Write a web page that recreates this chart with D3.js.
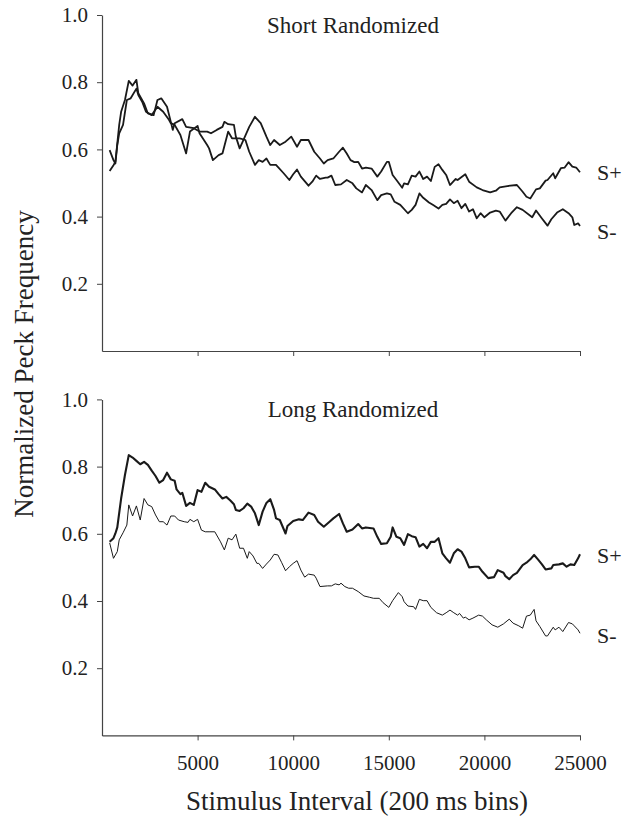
<!DOCTYPE html>
<html>
<head>
<meta charset="utf-8">
<script src="https://cdn.jsdelivr.net/npm/d3@7"></script>
<style>
body { margin: 0; background: #fff; }
</style>
</head>
<body>
<div id="chart"></div>
<script>
// values: [interval, normalized peck frequency]
const shortPlus = [[400,.536],[600,.553],[700,.563],[900,.673],[1000,.712],[1200,.747],[1400,.804],[1600,.790],[1800,.807],[1900,.767],[2200,.737],[2400,.707],[2700,.702],[2900,.747],[3100,.752],[3400,.727],[3600,.682],[3700,.658],[3800,.678],[4200,.690],[4400,.667],[4800,.663],[5100,.653],[5500,.653],[5700,.648],[6000,.658],[6300,.667],[6400,.682],[6600,.675],[6900,.673],[7000,.638],[7200,.603],[7400,.628],[7700,.667],[8000,.697],[8300,.678],[8600,.638],[8800,.613],[9000,.628],[9300,.613],[9600,.623],[9900,.638],[10200,.608],[10400,.628],[10800,.628],[11100,.593],[11400,.573],[11600,.558],[11800,.568],[12100,.573],[12400,.593],[12600,.605],[12800,.588],[13000,.568],[13200,.562],[13400,.563],[13600,.543],[13800,.546],[14100,.543],[14400,.519],[14600,.534],[14900,.563],[15000,.563],[15200,.524],[15400,.509],[15700,.486],[15800,.499],[16000,.496],[16200,.522],[16400,.519],[16600,.534],[16800,.512],[17000,.519],[17200,.506],[17400,.548],[17600,.556],[17800,.539],[18000,.524],[18200,.494],[18500,.512],[18600,.509],[19000,.526],[19200,.504],[19600,.487],[19900,.479],[20300,.472],[20600,.477],[20800,.487],[21200,.491],[21700,.494],[22000,.474],[22200,.459],[22400,.454],[22700,.481],[22900,.484],[23200,.507],[23300,.509],[23600,.529],[23700,.514],[24000,.544],[24200,.546],[24400,.562],[24600,.549],[24800,.546],[25000,.532]];

const shortMinus = [[400,.598],[600,.568],[700,.558],[800,.613],[900,.648],[1100,.673],[1300,.747],[1500,.752],[1800,.781],[1900,.762],[2100,.742],[2300,.712],[2600,.702],[2900,.727],[3200,.712],[3500,.688],[3600,.678],[3800,.673],[4100,.643],[4400,.588],[4600,.653],[5000,.670],[5100,.648],[5500,.613],[5600,.603],[5800,.568],[6100,.583],[6300,.588],[6600,.653],[6800,.633],[7200,.633],[7500,.628],[7700,.593],[8000,.554],[8200,.568],[8400,.563],[8600,.573],[8800,.554],[9100,.554],[9500,.529],[9800,.509],[10000,.526],[10200,.540],[10400,.519],[10800,.492],[11000,.504],[11200,.522],[11400,.512],[11700,.516],[11800,.516],[12000,.522],[12200,.494],[12500,.496],[12800,.509],[13100,.499],[13300,.484],[13600,.472],[13800,.494],[14100,.479],[14400,.449],[14600,.464],[14900,.469],[15100,.466],[15300,.444],[15600,.435],[16000,.410],[16200,.420],[16400,.435],[16600,.469],[16800,.456],[17100,.442],[17300,.435],[17600,.424],[17800,.435],[18000,.438],[18200,.451],[18400,.440],[18600,.447],[18800,.425],[19000,.438],[19200,.415],[19400,.422],[19600,.395],[19800,.410],[20000,.398],[20300,.412],[20600,.418],[20800,.415],[21100,.388],[21400,.410],[21700,.428],[22000,.420],[22500,.398],[22700,.418],[23000,.395],[23300,.373],[23500,.392],[23800,.412],[24100,.422],[24400,.410],[24600,.398],[24700,.375],[24900,.380],[25000,.372]];

const longPlus = [[400,.576],[600,.587],[700,.601],[800,.619],[1000,.705],[1200,.775],[1400,.834],[1600,.827],[1800,.817],[2000,.807],[2200,.814],[2400,.805],[2600,.788],[2800,.772],[3000,.752],[3200,.760],[3400,.782],[3600,.762],[3800,.758],[3900,.732],[4100,.718],[4200,.722],[4400,.683],[4600,.692],[4800,.686],[5000,.730],[5200,.725],[5400,.752],[5600,.740],[5900,.732],[6100,.718],[6300,.705],[6500,.710],[6700,.700],[6900,.688],[7000,.671],[7200,.668],[7400,.676],[7600,.690],[7800,.681],[8000,.661],[8200,.626],[8400,.666],[8600,.692],[8800,.703],[9000,.671],[9100,.646],[9300,.641],[9600,.601],[9700,.623],[10000,.638],[10300,.643],[10500,.641],[10800,.663],[11100,.656],[11300,.636],[11600,.621],[11900,.636],[12100,.646],[12400,.659],[12600,.631],[12800,.606],[13100,.613],[13400,.629],[13600,.616],[13800,.619],[14200,.616],[14400,.591],[14600,.570],[14900,.572],[15100,.591],[15200,.619],[15400,.591],[15600,.587],[15800,.567],[16000,.599],[16200,.593],[16400,.590],[16600,.562],[16800,.570],[17000,.557],[17200,.576],[17400,.576],[17600,.587],[17800,.542],[18000,.527],[18200,.514],[18400,.542],[18600,.554],[18800,.547],[19000,.527],[19200,.500],[19500,.502],[19700,.502],[19900,.487],[20200,.468],[20500,.471],[20700,.492],[21000,.484],[21100,.474],[21300,.465],[21500,.477],[21700,.484],[22000,.507],[22200,.514],[22400,.524],[22600,.537],[22800,.524],[23000,.510],[23200,.494],[23500,.497],[23600,.507],[23900,.509],[24100,.512],[24300,.502],[24500,.509],[24700,.507],[24900,.527],[25000,.539]];

const longMinus = [[400,.573],[600,.527],[800,.547],[900,.582],[1100,.603],[1300,.626],[1400,.686],[1600,.653],[1800,.683],[2000,.641],[2200,.705],[2400,.686],[2600,.681],[2800,.656],[3000,.636],[3200,.636],[3400,.626],[3600,.653],[3800,.653],[4000,.641],[4300,.636],[4500,.634],[4600,.643],[4800,.636],[5000,.643],[5200,.611],[5400,.606],[5600,.606],[5900,.606],[6200,.576],[6400,.552],[6600,.587],[6800,.582],[7000,.599],[7200,.557],[7400,.557],[7600,.527],[7700,.547],[7900,.534],[8100,.512],[8200,.512],[8400,.497],[8600,.510],[8800,.522],[9000,.539],[9200,.537],[9400,.514],[9600,.490],[9800,.502],[10000,.512],[10200,.520],[10400,.492],[10600,.471],[10800,.480],[11100,.477],[11200,.468],[11400,.443],[11800,.445],[12000,.445],[12200,.451],[12400,.448],[12500,.453],[12700,.443],[12900,.438],[13100,.438],[13400,.428],[13700,.415],[14000,.411],[14200,.408],[14500,.408],[14700,.395],[15000,.381],[15200,.401],[15500,.425],[15700,.413],[15800,.398],[16000,.385],[16300,.383],[16400,.375],[16600,.405],[16800,.401],[17000,.401],[17200,.381],[17500,.365],[17800,.358],[18000,.365],[18200,.373],[18400,.365],[18600,.358],[18700,.363],[18900,.349],[19000,.352],[19200,.344],[19400,.349],[19700,.358],[19900,.355],[20100,.344],[20400,.329],[20700,.322],[21000,.332],[21300,.346],[21500,.334],[21800,.326],[22000,.319],[22200,.355],[22400,.358],[22600,.375],[22700,.341],[22900,.324],[23200,.296],[23300,.296],[23600,.322],[23700,.314],[23900,.322],[24100,.309],[24400,.336],[24600,.332],[24700,.326],[24900,.314],[25000,.304]];

const xTicks = [5000, 10000, 15000, 20000, 25000];
const yTicks = [0.2, 0.4, 0.6, 0.8, 1.0];
const panelTitles = ["Short Randomized", "Long Randomized"];
const seriesNames = ["S+", "S-"];
// where the S+/S- labels sit, in y units
const labelValues = [[0.533, 0.355], [0.537, 0.299]];

const serif = '"Liberation Serif", "Times New Roman", Times, serif';

const W = 632, H = 818;
const svg = d3.select("#chart").append("svg")
    .attr("width", W)
    .attr("height", H)
    .style("font-family", serif);

const x = d3.scaleLinear().domain([0, 25000]).range([102, 580]);
const panelH = 336;

const panels = [
    { top: 15, plus: shortPlus, minus: shortMinus, plusW: 1.8, minusW: 1.8, xLabels: false },
    { top: 399.4, plus: longPlus, minus: longMinus, plusW: 2.1, minusW: 1.0, xLabels: true }
];

function styleTicks(g) {
    g.attr("font-family", null).attr("font-size", null);
    g.selectAll("text")
        .style("font-family", serif)
        .style("font-size", "21px")
        .style("fill", "#222");
    g.select(".domain").attr("stroke-width", 1.2);
}

panels.forEach((p, i) => {
    const y = d3.scaleLinear().domain([0, 1]).range([p.top + panelH, p.top]);

    svg.append("g")
        .attr("transform", "translate(102,0)")
        .attr("color", "#444")
        .call(d3.axisLeft(y).tickValues(yTicks).tickSize(5).tickSizeOuter(0)
            .tickPadding(9).tickFormat(d3.format(".1f")))
        .call(styleTicks);

    svg.append("g")
        .attr("transform", `translate(0,${p.top + panelH})`)
        .attr("color", "#444")
        .call(d3.axisBottom(x).tickValues(xTicks).tickSize(5).tickSizeOuter(0)
            .tickPadding(15).tickFormat(p.xLabels ? d3.format("d") : ""))
        .call(styleTicks);

    const line = d3.line().x(d => x(d[0])).y(d => y(d[1]));

    svg.append("path")
        .datum(p.minus)
        .attr("fill", "none")
        .attr("stroke", "#1a1a1a")
        .attr("stroke-width", p.minusW)
        .attr("stroke-linejoin", "round")
        .attr("d", line);

    svg.append("path")
        .datum(p.plus)
        .attr("fill", "none")
        .attr("stroke", "#1a1a1a")
        .attr("stroke-width", p.plusW)
        .attr("stroke-linejoin", "round")
        .attr("d", line);

    svg.append("text")
        .attr("x", 353)
        .attr("y", p.top + 17.5)
        .attr("text-anchor", "middle")
        .style("font-size", "23px")
        .style("fill", "#222")
        .text(panelTitles[i]);

    seriesNames.forEach((name, j) => {
        svg.append("text")
            .attr("x", x(25000) + 17)
            .attr("y", y(labelValues[i][j]))
            .attr("dy", "0.35em")
            .style("font-size", "22px")
            .style("fill", "#222")
            .text(name);
    });
});

svg.append("text")
    .attr("transform", "translate(33,364) rotate(-90)")
    .attr("text-anchor", "middle")
    .style("font-size", "27px")
    .style("fill", "#222")
    .text("Normalized Peck Frequency");

svg.append("text")
    .attr("x", 357)
    .attr("y", 810)
    .attr("text-anchor", "middle")
    .style("font-size", "27px")
    .style("fill", "#222")
    .text("Stimulus Interval (200 ms bins)");
</script>
</body>
</html>
